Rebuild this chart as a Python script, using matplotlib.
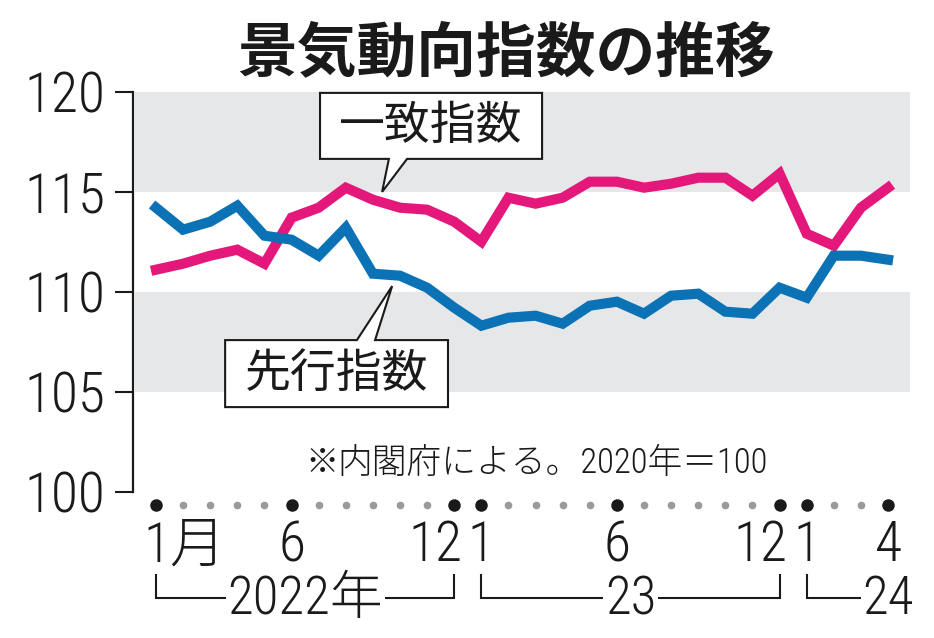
import numpy as np
import matplotlib.pyplot as plt
from matplotlib.patches import Polygon

# =========================
# DATA
# =========================
month_labels = ["1月", "", "", "", "", "6", "", "", "", "", "", "12",
                "1", "", "", "", "", "6", "", "", "", "", "", "12",
                "1", "", "", "4"]

# 一致指数 (coincident)
coincident = [111.1, 111.4, 111.8, 112.1, 111.4, 113.7, 114.2, 115.2, 114.6, 114.2, 114.1, 113.5,
              112.5, 114.7, 114.4, 114.7, 115.5, 115.5, 115.2, 115.4, 115.7, 115.7, 114.8, 115.9,
              112.9, 112.3, 114.2, 115.2]

# 先行指数 (leading)
leading = [114.2, 113.1, 113.5, 114.3, 112.8, 112.6, 111.8, 113.2, 110.9, 110.8, 110.2, 109.2,
           108.3, 108.7, 108.8, 108.4, 109.3, 109.5, 108.9, 109.8, 109.9, 109.0, 108.9, 110.2,
           109.7, 111.8, 111.8, 111.6]

years = ["2022年", "23", "24"]
year_first = [0, 12, 24]
year_last = [11, 23, 27]

yticks = [100, 105, 110, 115, 120]

# =========================
# STYLE
# =========================
PINK = "#e4177b"
BLUE = "#0b72b6"
BAND = "#e6e7e8"
INK = "#1a1a1a"
NUM_FONT = ["Roboto Condensed", "Noto Sans CJK JP", "DejaVu Sans"]
JP_FONT = ["Noto Sans CJK JP", "DejaVu Sans"]

plt.rcParams["font.family"] = NUM_FONT
plt.rcParams["font.weight"] = 300

fig = plt.figure(figsize=(9.34, 6.38), dpi=100)
ax = fig.add_axes([0.1424, 0.2293, 0.8319, 0.627])

x = np.arange(len(leading))

ax.axhspan(115, 120, xmin=0.003, color=BAND, lw=0, zorder=0)
ax.axhspan(105, 110, xmin=0.003, color=BAND, lw=0, zorder=0)

ax.plot(x, coincident, color=PINK, lw=7.3, solid_joinstyle="miter", zorder=3)
ax.plot(x, leading, color=BLUE, lw=7.3, solid_joinstyle="miter", zorder=3)

ax.set_xlim(-0.848, 27.81)
ax.set_ylim(100, 120)
ax.set_yticks(yticks)
ax.set_yticklabels([str(v) for v in yticks])
ax.tick_params(axis="y", length=13, width=1.5, pad=7, labelsize=40, color=INK, labelcolor=INK)
ax.set_xticks([])
for side in ["top", "right", "bottom"]:
    ax.spines[side].set_visible(False)
ax.spines["left"].set_linewidth(1.6)
ax.spines["left"].set_color(INK)


# =========================
# CALLOUTS
# =========================
def callout(x0, x1, y0, y1, b0, b1, tip, text, tail_top):
    pts = [(x0, y0), (x0, y1)]
    if tail_top:
        pts += [(b0, y1), tip, (b1, y1)]
    pts += [(x1, y1), (x1, y0)]
    if not tail_top:
        pts += [(b1, y0), tip, (b0, y0)]
    poly = Polygon(pts, closed=True, facecolor="white", edgecolor=INK,
                   lw=1.5, joinstyle="miter", clip_on=False, zorder=5)
    ax.add_patch(poly)
    ax.text((x0 + x1) / 2, (y0 + y1) / 2, text, family=JP_FONT, fontsize=33,
            fontweight=400, ha="center", va="center", color=INK, zorder=6)


callout(6.05, 14.24, 116.64, 119.94, 8.59, 9.26, (8.34, 114.99), "一致指数", False)
callout(2.55, 10.77, 104.23, 107.58, 7.41, 8.08, (8.71, 110.28), "先行指数", True)

# footnote: ※ comes from the CJK font, the rest keeps the narrow digits
note = ax.text(22.57, 101.44, "内閣府による。2020年＝100", fontsize=25,
               ha="right", va="center", color=INK, zorder=6)
fig.canvas.draw()
bb = note.get_window_extent().transformed(ax.transData.inverted())
ax.text(bb.x0 + 0.05, 101.44, "※", family=JP_FONT, fontsize=24,
        ha="right", va="center", color=INK, zorder=6)

# =========================
# MONTH AXIS
# =========================
for i, lab in enumerate(month_labels):
    if lab:
        ax.plot(i, 99.33, "o", color=INK, ms=8, clip_on=False)
    else:
        ax.plot(i, 99.33, "o", color="#9a9a9a", ms=4.5, clip_on=False)

for i, lab in enumerate(month_labels):
    if not lab:
        continue
    if lab == "1月":
        ax.text(i - 0.45, 97.3, lab, fontsize=40, ha="left", va="center", color=INK)
    elif lab == "12":
        ax.text(i + 0.3, 97.3, lab, fontsize=40, ha="right", va="center", color=INK)
    else:
        ax.text(i, 97.3, lab, fontsize=40, ha="center", va="center", color=INK)

for name, a, b in zip(years, year_first, year_last):
    ax.plot([a, a, b, b], [95.85, 94.68, 94.68, 95.85], color=INK, lw=1.5,
            clip_on=False, solid_joinstyle="miter")
    ax.text((a + b) / 2 if b - a > 5 else b, 94.6, name, fontsize=38, ha="center", va="center",
            color=INK, bbox=dict(facecolor="white", edgecolor="none", pad=1))

fig.text(0.542, 0.915, "景気動向指数の推移", family=JP_FONT, fontsize=43,
         fontweight="bold", ha="center", va="center", color=INK)

fig.savefig("out.png", dpi=100)
